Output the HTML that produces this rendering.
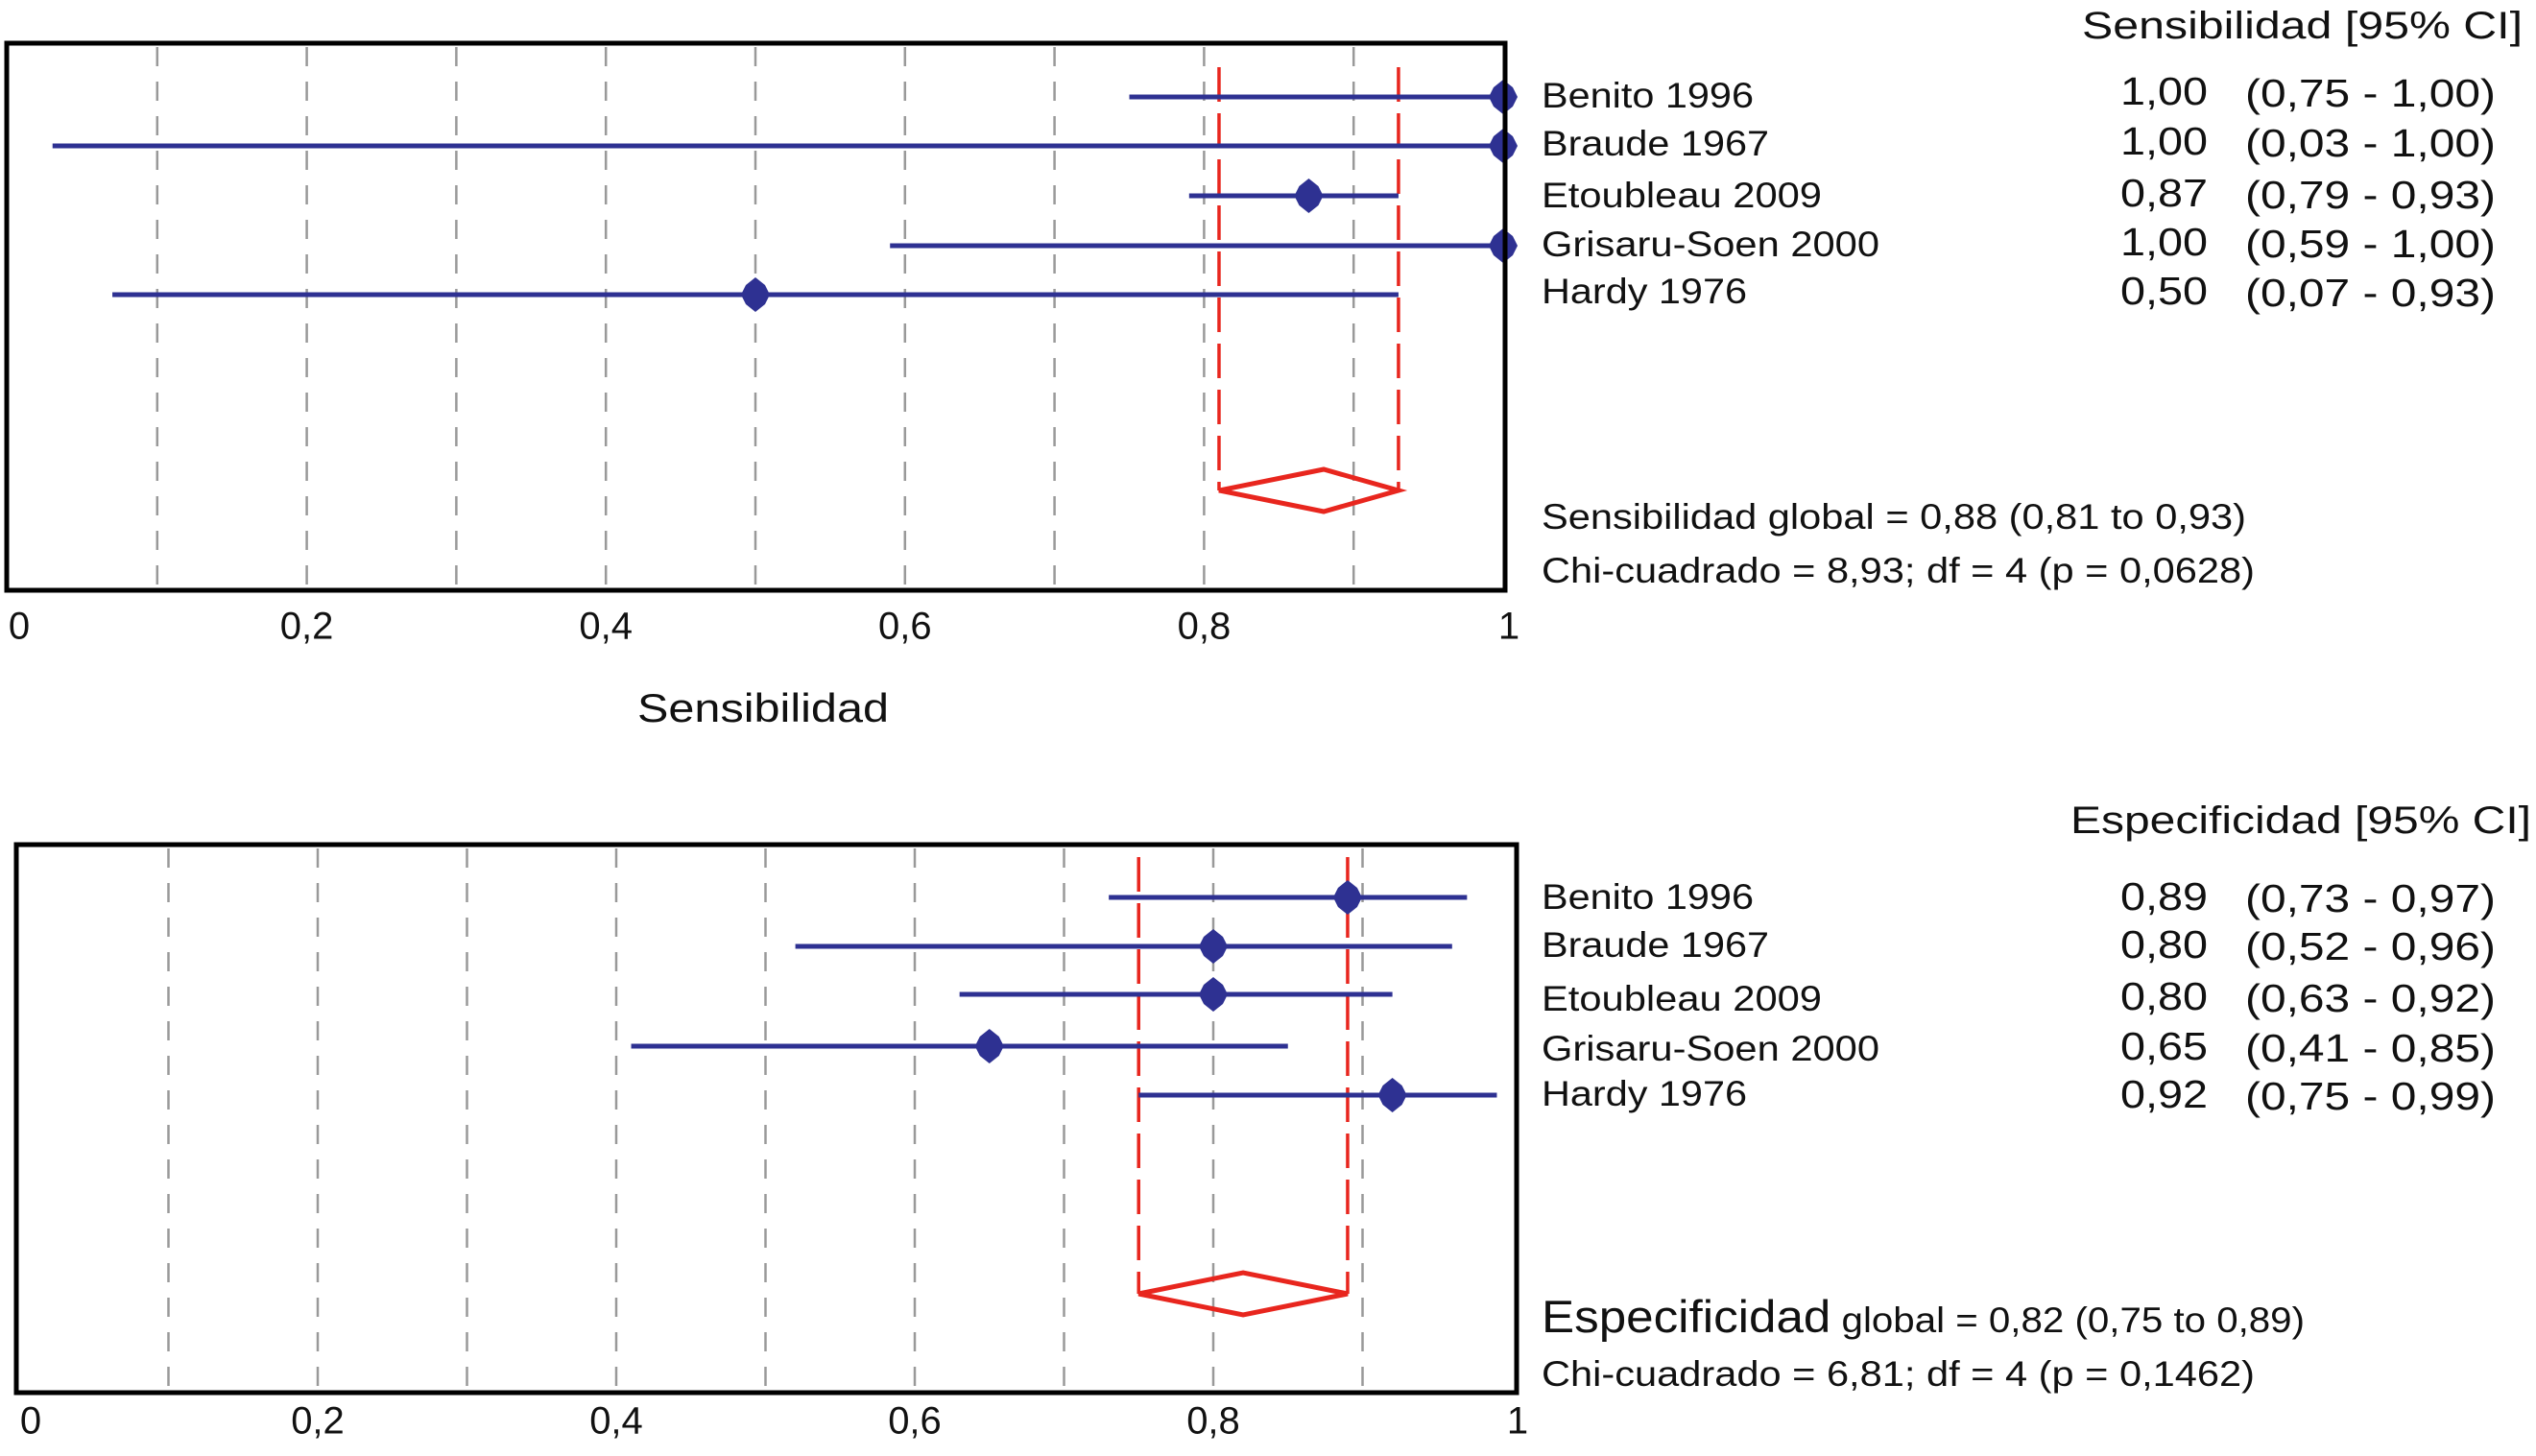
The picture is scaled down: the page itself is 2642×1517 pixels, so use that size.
<!DOCTYPE html>
<html><head><meta charset="utf-8"><style>
html,body{margin:0;padding:0;background:#fff;}
svg{display:block;}
text{font-family:"Liberation Sans",sans-serif;fill:#111;}
</style></head><body>
<svg id="chart" width="2642" height="1517" viewBox="0 0 2642 1517" xmlns="http://www.w3.org/2000/svg">
<g id="top"></g>
<g id="bot"></g>

<text x="2628" y="40" text-anchor="end" font-size="40" textLength="459" lengthAdjust="spacingAndGlyphs">Sensibilidad [95% CI]</text>
<text x="1606" y="541" dominant-baseline="middle" font-size="37" textLength="734" lengthAdjust="spacingAndGlyphs">Sensibilidad global = 0,88 (0,81 to 0,93)</text>
<text x="1606" y="597" dominant-baseline="middle" font-size="37" textLength="743" lengthAdjust="spacingAndGlyphs">Chi-cuadrado = 8,93; df = 4 (p = 0,0628)</text>
<text x="795" y="752" text-anchor="middle" font-size="42" textLength="262" lengthAdjust="spacingAndGlyphs">Sensibilidad</text>

<text x="2637" y="868" text-anchor="end" font-size="40" textLength="480" lengthAdjust="spacingAndGlyphs">Especificidad [95% CI]</text>
<text x="1606" y="1388" font-size="37" textLength="795" lengthAdjust="spacingAndGlyphs"><tspan font-size="47">Especificidad</tspan> global = 0,82 (0,75 to 0,89)</text>
<text x="1606" y="1434" dominant-baseline="middle" font-size="37" textLength="743" lengthAdjust="spacingAndGlyphs">Chi-cuadrado = 6,81; df = 4 (p = 0,1462)</text>
</svg>
<script>
const studies = ["Benito 1996","Braude 1967","Etoubleau 2009","Grisaru-Soen 2000","Hardy 1976"];
const sensEst = [1.00,1.00,0.87,1.00,0.50];
const sensLo  = [0.75,0.03,0.79,0.59,0.07];
const sensHi  = [1.00,1.00,0.93,1.00,0.93];
const sensPooled = [0.88,0.81,0.93];
const specEst = [0.89,0.80,0.80,0.65,0.92];
const specLo  = [0.73,0.52,0.63,0.41,0.75];
const specHi  = [0.97,0.96,0.92,0.85,0.99];
const specPooled = [0.82,0.75,0.89];
const tickValues = [0,0.2,0.4,0.6,0.8,1];
const tickLabels = ["0","0,2","0,4","0,6","0,8","1"];
const gridValues = [0.1,0.2,0.3,0.4,0.5,0.6,0.7,0.8,0.9];

const NS="http://www.w3.org/2000/svg";
function mk(parent,tag,attrs){const e=document.createElementNS(NS,tag);for(const k in attrs)e.setAttribute(k,attrs[k]);parent.appendChild(e);return e;}
function fmt(v){return v.toFixed(2).replace('.',',');}
const labelW=[221,237,292,352,214];

function panel(g,cfg){
  const x=v=>cfg.x0+v*(cfg.x1-cfg.x0);
  gridValues.forEach(v=>{
    const l=mk(g,'line',{x1:x(v),x2:x(v),y1:cfg.top+4,y2:cfg.bottom-4,stroke:'#999','stroke-width':2.5,'stroke-dasharray':'20,16'});
    
    
  });
  const [pe,pl,ph]=cfg.pooled;
  [pl,ph].forEach(v=>{
    const l=mk(g,'line',{x1:x(v),x2:x(v),y1:cfg.redTop,y2:cfg.dy,stroke:'#e8261e','stroke-width':3.5,'stroke-dasharray':'36,12'});
    
    
  });
  const d=mk(g,'polygon',{points:`${x(pl)},${cfg.dy} ${x(pe)},${cfg.dy-22} ${x(ph)},${cfg.dy} ${x(pe)},${cfg.dy+22}`,fill:'none',stroke:'#e8261e','stroke-width':5});
  
  
  cfg.est.forEach((v,i)=>{
    const y=cfg.rows[i];
    const l=mk(g,'line',{x1:x(cfg.lo[i]),x2:x(cfg.hi[i]),y1:y,y2:y,stroke:'#2e3192','stroke-width':5});
    
    
    const cx=x(v);
    const m=mk(g,'polygon',{points:`${cx},${y-18} ${cx+10},${y-10} ${cx+15},${y} ${cx+10},${y+10} ${cx},${y+18} ${cx-10},${y+10} ${cx-15},${y} ${cx-10},${y-10}`,fill:'#2e3192'});
    
    
    const t=mk(g,'text',{x:1606,y:cfg.lab[i],'dominant-baseline':'middle','font-size':37,textLength:labelW[i],lengthAdjust:'spacingAndGlyphs'});
    t.textContent=studies[i];
    
    
    const n=mk(g,'text',{x:2300,y:cfg.val[i],'dominant-baseline':'middle','text-anchor':'end','font-size':41,textLength:91,lengthAdjust:'spacingAndGlyphs'});
    n.textContent=fmt(v);
    
    
    const c=mk(g,'text',{x:2339,y:cfg.val[i]+2,'dominant-baseline':'middle','font-size':41,textLength:261,lengthAdjust:'spacingAndGlyphs'});
    c.textContent='('+fmt(cfg.lo[i])+' - '+fmt(cfg.hi[i])+')';
    
    
  });
  const b=mk(g,'rect',{x:cfg.bx0,y:cfg.top,width:cfg.bx1-cfg.bx0,height:cfg.bottom-cfg.top,fill:'none',stroke:'#000','stroke-width':5});
  
  
  tickValues.forEach((v,i)=>{
    let tx=x(v); if(i===0)tx+=12; if(i===tickValues.length-1)tx+=6;
    const t=mk(g,'text',{x:tx,y:cfg.tickY,'text-anchor':'middle','dominant-baseline':'middle','font-size':40});
    t.textContent=tickLabels[i];
    
    
  });
}
panel(document.getElementById('top'),{x0:8,x1:1566,bx0:7,bx1:1568,top:45,bottom:615,
  est:sensEst,lo:sensLo,hi:sensHi,pooled:sensPooled,rows:[101,152,204,256,307],
  lab:[102,152,206,257,306],val:[98,150,204,255,306],redTop:70,dy:511,tickY:655});
panel(document.getElementById('bot'),{x0:20,x1:1575,bx0:17,bx1:1580,top:880,bottom:1451,
  est:specEst,lo:specLo,hi:specHi,pooled:specPooled,rows:[935,986,1036,1090,1141],
  lab:[937,987,1043,1095,1142],val:[937,987,1041,1093,1143],redTop:893,dy:1348,tickY:1483});
</script>
</body></html>
